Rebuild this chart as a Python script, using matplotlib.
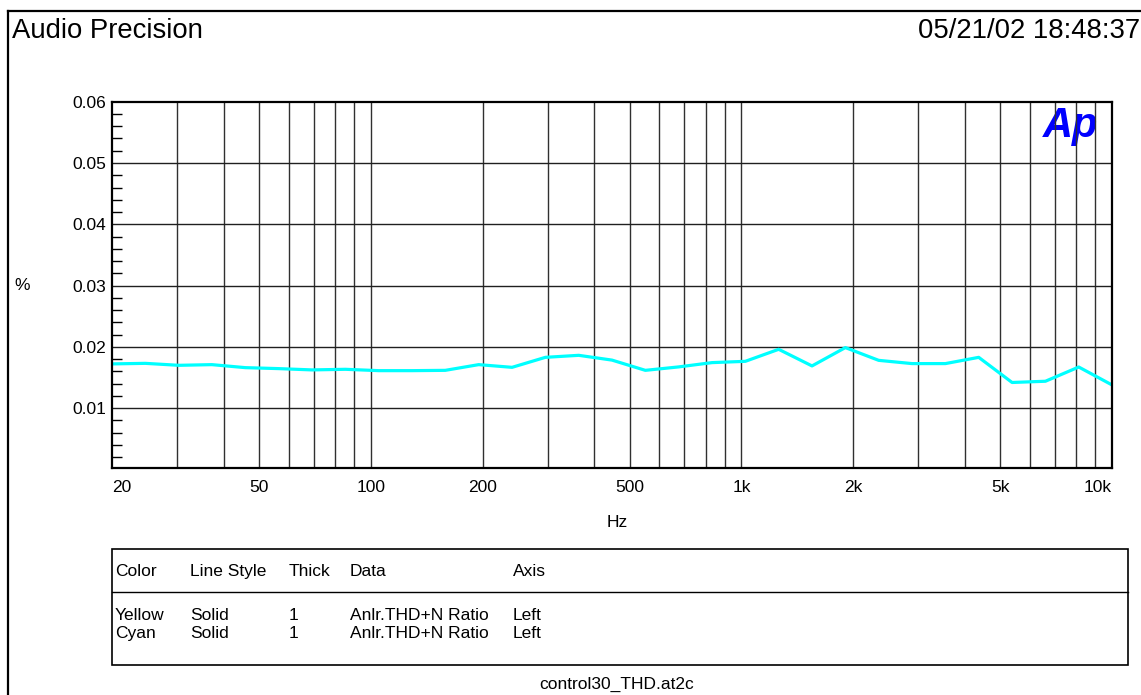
import matplotlib
matplotlib.use('Agg')
import matplotlib.pyplot as plt
from matplotlib.patches import Rectangle
from matplotlib.lines import Line2D
from matplotlib.ticker import FixedLocator, MultipleLocator, NullLocator

plt.rcParams['font.family'] = ['Liberation Sans', 'DejaVu Sans']

# sweep points (Hz) and THD+N ratio (%)
freq = [20, 24.6, 30.3, 37.2, 45.8, 56.4, 69.3, 85.3, 104.9, 129.1,
        158.7, 195.3, 240.3, 295.6, 363.6, 447.2, 550.2, 676.8, 832.7, 1024,
        1260, 1550, 1907, 2346, 2886, 3551, 4368, 5374, 6611, 8133, 10000]
thd_cyan = [0.01723, 0.01732, 0.01700, 0.01711, 0.01662, 0.01646, 0.01625, 0.01635, 0.01613, 0.01613,
            0.01618, 0.01711, 0.01667, 0.01830, 0.01863, 0.01785, 0.01618, 0.01674, 0.01744, 0.01765,
            0.01961, 0.01690, 0.01989, 0.01781, 0.01728, 0.01728, 0.01830, 0.01420, 0.01440, 0.01672,
            0.01380]

xticks = [20, 50, 100, 200, 500, 1000, 2000, 5000, 10000]
xtick_labels = ['20', '50', '100', '200', '500', '1k', '2k', '5k', '10k']
xgrid = [30, 40, 50, 60, 70, 80, 90, 100, 200, 300, 400, 500, 600, 700, 800, 900,
         1000, 2000, 3000, 4000, 5000, 6000, 7000, 8000, 9000]
yticks = [0.01, 0.02, 0.03, 0.04, 0.05, 0.06]

legend_header = ['Color', 'Line Style', 'Thick', 'Data', 'Axis']
legend_rows = [['Yellow', 'Solid', '1', 'Anlr.THD+N Ratio', 'Left'],
               ['Cyan', 'Solid', '1', 'Anlr.THD+N Ratio', 'Left']]

W, H = 1141, 695
fig = plt.figure(figsize=(W / 100, H / 100), dpi=100)


def fx(px):
    return px / W


def fy(py):
    return 1 - py / H


# outer frame
fig.add_artist(Line2D([fx(8), fx(8)], [fy(11), 0], color='black', lw=1.6))
fig.add_artist(Line2D([fx(8), 1], [fy(11), fy(11)], color='black', lw=1.6))
fig.text(fx(12), fy(38), 'Audio Precision', fontsize=19.8, va='baseline', ha='left')
fig.text(fx(1140), fy(38), '05/21/02 18:48:37', fontsize=19.8, va='baseline', ha='right')

ax = fig.add_axes([fx(112), fy(468), fx(1112) - fx(112), fy(101.7) - fy(468)])
ax.set_xscale('log')
ax.set_xlim(20, 10000)
ax.set_ylim(0.00025, 0.06)

for g in xgrid:
    ax.axvline(g, color='#303030', lw=1.0, zorder=1)
for g in yticks[:-1]:
    ax.axhline(g, color='#202020', lw=1.0, zorder=1)

ax.plot(freq, thd_cyan, color='#00FFFF', lw=2.3, zorder=3)

ax.text(0.986, 0.988, 'Ap', transform=ax.transAxes, ha='right', va='top',
        fontsize=30, fontweight='bold', fontstyle='italic', color='#0000FF', zorder=0,
        family='Liberation Sans')

ax.xaxis.set_major_locator(FixedLocator(xticks))
ax.xaxis.set_minor_locator(NullLocator())
ax.set_xticklabels(xtick_labels)
ax.tick_params(axis='x', which='both', length=0, pad=9, labelsize=12.5)
labels = ax.get_xticklabels()
labels[0].set_ha('left')
labels[-1].set_ha('right')

ax.set_yticks(yticks)
ax.set_yticklabels(['%g' % v for v in yticks])
ax.yaxis.set_minor_locator(MultipleLocator(0.002))
ax.tick_params(axis='y', which='major', length=0, pad=4, labelsize=12.5)
ax.tick_params(axis='y', which='minor', direction='in', length=7, width=1.0, left=True, right=False)

for s in ax.spines.values():
    s.set_linewidth(1.6)
    s.set_color('black')
    s.set_zorder(4)

fig.text(fx(22), fy(286), '%', fontsize=12.5, ha='center', va='center')
fig.text(fx(617), fy(527), 'Hz', fontsize=12.5, ha='center', va='baseline')

# legend table
box_l, box_r, box_t, box_b = 112, 1128, 549, 665
fig.add_artist(Rectangle((fx(box_l), fy(box_b)), fx(box_r) - fx(box_l), fy(box_t) - fy(box_b),
                         fill=False, edgecolor='black', lw=1.2))
fig.add_artist(Line2D([fx(box_l), fx(box_r)], [fy(592), fy(592)], color='black', lw=1.0))
col_x = [115, 190, 289, 350, 513]
for cx, txt in zip(col_x, legend_header):
    fig.text(fx(cx), fy(576), txt, fontsize=12.5, ha='left', va='baseline')
for ry, row in zip([620, 638], legend_rows):
    for cx, txt in zip(col_x, row):
        fig.text(fx(cx), fy(ry), txt, fontsize=12.5, ha='left', va='baseline')

fig.text(fx(617), fy(689), 'control30_THD.at2c', fontsize=12.5, ha='center', va='baseline')

fig.savefig('out.png', dpi=100)
